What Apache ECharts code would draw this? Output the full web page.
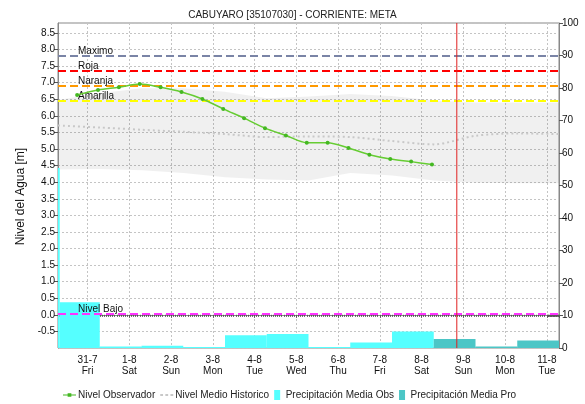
<!DOCTYPE html>
<html>
<head>
<meta charset="utf-8">
<title>CABUYARO</title>
<script src="https://cdn.jsdelivr.net/npm/echarts@6/dist/echarts.min.js"></script>
<style>
  html, body { margin: 0; padding: 0; background: #fff; }
  #chart { width: 585px; height: 404px; }
</style>
</head>
<body>
<div id="chart"></div>
<script>
// nivel observado (m), cada 12 h
var obsTimes = ['2015-07-30 18:00', '2015-07-31 06:00', '2015-07-31 18:00', '2015-08-01 06:00', '2015-08-01 18:00',
  '2015-08-02 06:00', '2015-08-02 18:00', '2015-08-03 06:00', '2015-08-03 18:00', '2015-08-04 06:00',
  '2015-08-04 18:00', '2015-08-05 06:00', '2015-08-05 18:00', '2015-08-06 06:00', '2015-08-06 18:00',
  '2015-08-07 06:00', '2015-08-07 18:00', '2015-08-08 06:00'];
var obsLevel = [6.63, 6.78, 6.86, 6.96, 6.86, 6.72, 6.51, 6.21, 5.93, 5.63, 5.41, 5.19, 5.19, 5.03, 4.83, 4.70, 4.62, 4.53];

// historico diario
var histTimes = ['2015-07-30 07:00', '2015-07-31 07:00', '2015-08-01 07:00', '2015-08-02 07:00', '2015-08-03 07:00',
  '2015-08-04 07:00', '2015-08-05 07:00', '2015-08-06 07:00', '2015-08-07 07:00', '2015-08-08 07:00',
  '2015-08-09 07:00', '2015-08-10 07:00', '2015-08-11 07:00'];
var histMean = [5.71, 5.65, 5.58, 5.52, 5.45, 5.36, 5.38, 5.36, 5.24, 5.14, 5.40, 5.47, 5.45];
var histMin = [4.38, 4.40, 4.36, 4.28, 4.15, 4.08, 4.05, 4.28, 4.20, 4.05, 3.98, 3.97, 3.97];
var histMax = [6.48, 6.68, 6.83, 6.83, 6.73, 6.53, 6.58, 6.66, 6.60, 6.46, 6.40, 6.40, 6.40];

// precipitacion (eje derecho)
var rainObsStart = ['2015-07-29 07:00', '2015-07-30 08:00', '2015-07-31 07:00', '2015-08-01 07:00', '2015-08-02 07:00',
  '2015-08-03 07:00', '2015-08-04 07:00', '2015-08-05 07:00', '2015-08-06 07:00', '2015-08-07 07:00'];
var rainObsEnd = ['2015-07-30 08:00', '2015-07-31 07:00', '2015-08-01 07:00', '2015-08-02 07:00', '2015-08-03 07:00',
  '2015-08-04 07:00', '2015-08-05 07:00', '2015-08-06 07:00', '2015-08-07 07:00', '2015-08-08 07:00'];
var rainObs = [55.4, 14.1, 0.5, 0.7, 0.3, 3.9, 4.3, 0.3, 1.7, 5.1];
var rainProStart = ['2015-08-08 07:00', '2015-08-09 07:00', '2015-08-10 07:00'];
var rainProEnd = ['2015-08-09 07:00', '2015-08-10 07:00', '2015-08-11 07:00'];
var rainPro = [2.8, 0.5, 2.3];

// umbrales
var thresholdNames = ['Maximo', 'Roja', 'Naranja', 'Amarilla', 'Nivel Bajo'];
var thresholdValues = [7.81, 7.36, 6.90, 6.45, 0.02];
var thresholdColors = ['#7a84a6', '#ff0000', '#ff9900', '#ffff00', '#ff33ff'];

var nowTime = '2015-08-08 20:15';
var axisStart = '2015-07-30 07:00';
var axisEnd = '2015-08-11 07:00';
var levelMin = -1, levelMax = 8.8;
var dayNames = ['Sun', 'Mon', 'Tue', 'Wed', 'Thu', 'Fri', 'Sat'];

function t(s) {
  var p = s.split(/[- :]/);
  return Date.UTC(+p[0], +p[1] - 1, +p[2], +p[3], +p[4]);
}
function pairs(times, vals) {
  return times.map(function (x, i) { return [t(x), vals[i]]; });
}
function boxes(starts, ends, vals) {
  return starts.map(function (x, i) { return [t(x), t(ends[i]), vals[i]]; });
}
function rectItem(color) {
  return function (params, api) {
    var a = api.coord([api.value(0), 0]);
    var b = api.coord([api.value(1), api.value(2)]);
    var shape = echarts.graphic.clipRectByRect(
      { x: a[0], y: b[1], width: b[0] - a[0], height: a[1] - b[1] },
      { x: params.coordSys.x, y: params.coordSys.y, width: params.coordSys.width, height: params.coordSys.height });
    return shape && { type: 'rect', shape: shape, style: { fill: color } };
  };
}

var font = 'Liberation Sans';
var chart = echarts.init(document.getElementById('chart'));

var thresholdLines = thresholdNames.map(function (n, i) {
  return {
    yAxis: thresholdValues[i],
    lineStyle: { color: thresholdColors[i], type: [8, 4], width: 2 },
    label: { formatter: n }
  };
});

var option = {
  useUTC: true,
  animation: false,
  textStyle: { fontFamily: font },
  title: {
    text: 'CABUYARO [35107030] - CORRIENTE: META',
    left: 'center', top: 5,
    textStyle: { fontSize: 10, fontWeight: 'normal', color: '#222', fontFamily: font }
  },
  legend: {
    top: 385, left: 58,
    itemGap: 5, itemWidth: 13, itemHeight: 10,
    textStyle: { fontSize: 10, color: '#222', fontFamily: font, padding: [0, 0, 0, -3] },
    data: [
      { name: 'Nivel Observador', icon: 'path://M0,4.4H14V5.6H0Z M5,3H9V7H5Z' },
      { name: 'Nivel Medio Historico', icon: 'path://M0,4H3V6H0Z M5.5,4H8.5V6H5.5Z M11,4H14V6H11Z' },
      { name: 'Precipitación Media Obs', icon: 'path://M0,0H6V10H0Z' },
      { name: 'Precipitación Media Pro', icon: 'path://M0,0H6V10H0Z' }
    ]
  },
  grid: { left: 58, right: 26, top: 23, bottom: 56, show: true, borderColor: '#888', borderWidth: 1 },
  xAxis: {
    type: 'time',
    min: t(axisStart), max: t(axisEnd),
    minInterval: 86400000, maxInterval: 86400000,
    axisLine: { lineStyle: { color: '#888' } },
    axisTick: { length: 3, lineStyle: { color: '#555' } },
    minorTick: { show: true, splitNumber: 20, length: 2, lineStyle: { color: '#555' } },
    splitLine: { show: true, lineStyle: { color: '#c4c4c4', type: [2, 2] } },
    axisLabel: {
      fontSize: 10, color: '#111', lineHeight: 11, margin: 7,
      showMinLabel: false, showMaxLabel: false,
      formatter: function (v) {
        var d = new Date(v);
        return d.getUTCDate() + '-' + (d.getUTCMonth() + 1) + '\n' + dayNames[d.getUTCDay()];
      }
    }
  },
  yAxis: [{
    type: 'value', min: levelMin, max: levelMax, interval: 0.5,
    name: 'Nivel del Agua [m]', nameLocation: 'middle', nameGap: 27,
    nameTextStyle: { fontSize: 12, color: '#111', padding: [0, 22, 0, 0] },
    axisLine: { show: true, lineStyle: { color: '#888' } },
    axisTick: { show: true, length: 4, lineStyle: { color: '#555' } },
    splitLine: { show: true, lineStyle: { color: '#c4c4c4', type: [2, 2] } },
    axisLabel: {
      fontSize: 10, color: '#111', margin: 3, showMinLabel: false, showMaxLabel: false,
      formatter: function (v) { return v.toFixed(1); }
    }
  }, {
    type: 'value', min: 0, max: 100, interval: 10, position: 'right',
    axisLine: { show: true, lineStyle: { color: '#888' } },
    axisTick: { show: true, length: 4, lineStyle: { color: '#555' } },
    splitLine: { show: false },
    axisLabel: { fontSize: 10, color: '#111', margin: 3 }
  }],
  series: [
    {
      name: 'Precipitación Media Obs', type: 'custom', yAxisIndex: 1, z: 1,
      color: '#55ffff',
      renderItem: rectItem('#55ffff'),
      encode: { x: [0, 1], y: 2 },
      data: boxes(rainObsStart, rainObsEnd, rainObs)
    },
    {
      name: 'Precipitación Media Pro', type: 'custom', yAxisIndex: 1, z: 1,
      color: '#4cc6c6',
      renderItem: rectItem('#4cc6c6'),
      encode: { x: [0, 1], y: 2 },
      data: boxes(rainProStart, rainProEnd, rainPro)
    },
    {
      name: 'bandMin', type: 'line', stack: 'band', symbol: 'none', z: 0,
      lineStyle: { opacity: 0 },
      data: pairs(histTimes, histMin)
    },
    {
      name: 'bandRange', type: 'line', stack: 'band', symbol: 'none', z: 0,
      lineStyle: { opacity: 0 },
      areaStyle: { color: 'rgba(0,0,0,0.06)', opacity: 1 },
      data: pairs(histTimes, histMax.map(function (v, i) { return +(v - histMin[i]).toFixed(2); }))
    },
    {
      name: 'Nivel Medio Historico', type: 'line', symbol: 'none', smooth: 0.3, z: 2,
      color: '#c8c8c8',
      lineStyle: { color: '#c8c8c8', width: 2, type: [2, 3] },
      data: pairs(histTimes, histMean),
      markLine: {
        silent: true, symbol: 'none',
        label: { position: 'insideStartTop', distance: [20, 0], color: '#111', fontSize: 10, fontFamily: font },
        data: thresholdLines
      }
    },
    {
      name: 'Nivel Observador', type: 'line', smooth: 0.3, z: 5,
      symbol: 'circle', symbolSize: 4,
      color: '#44b822',
      itemStyle: { color: '#44b822' },
      lineStyle: { color: '#66cc33', width: 1.5 },
      data: pairs(obsTimes, obsLevel)
    },
    {
      name: 'ahora', type: 'line', symbol: 'none', z: 6, silent: true,
      color: '#e02020',
      lineStyle: { color: '#e02020', width: 1 },
      data: [[t(nowTime), levelMin], [t(nowTime), levelMax]]
    }
  ]
};
chart.setOption(option);
</script>
</body>
</html>
